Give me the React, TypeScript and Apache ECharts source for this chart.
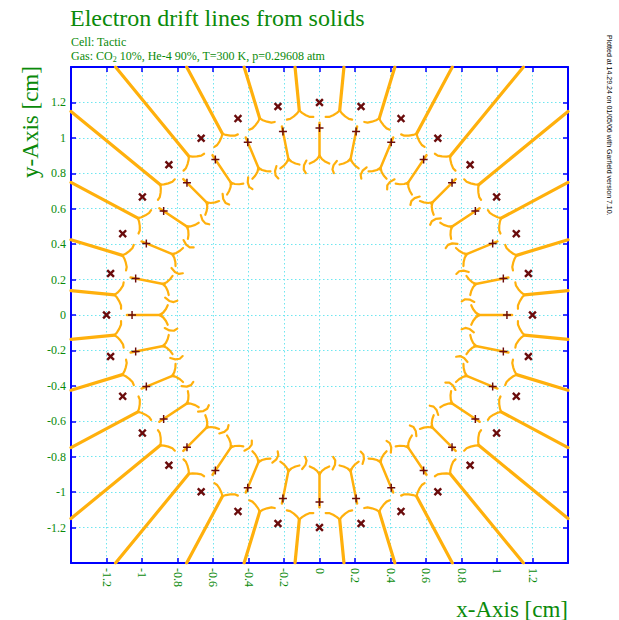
import React, { useEffect, useRef } from 'react';
import * as echarts from 'echarts';

// ---- data ----
// wire angles (degrees, counter-clockwise from +x), 32 wires per ring
const WIRE_ANGLES_DEG = [
  0, 11.25, 22.5, 33.75, 45, 56.25, 67.5, 78.75,
  90, 101.25, 112.5, 123.75, 135, 146.25, 157.5, 168.75,
  180, 191.25, 202.5, 213.75, 225, 236.25, 247.5, 258.75,
  270, 281.25, 292.5, 303.75, 315, 326.25, 337.5, 348.75,
];
const OUTER_WIRE_RADIUS = 1.2; // "x" markers
const INNER_WIRE_RADIUS = 1.056; // "+" markers
const HALF_SECTOR_DEG = 5.625; // long drift lines lie midway between wires
const PLOT_HALF_SIZE = 1.4;

// drift line shapes, local coordinates [radial distance, tangential offset]
const LONG_STEM_END = 1.16;
const LONG_FORK_BRANCH = [[1.16, 0], [1.145, 0.014], [1.13, 0.034], [1.118, 0.056], [1.116, 0.075]];
const INNER_STEM = [[1.085, 0], [0.89, 0]];
const INNER_FORK_BRANCH = [[0.9, 0], [0.88, 0.014], [0.865, 0.034], [0.855, 0.055]];
const HOOK_ARC = [[0.875, -0.012], [0.85, 0.004], [0.825, 0.008], [0.805, -0.002]];

const X_AXIS_TITLE = 'x-Axis [cm]';
const Y_AXIS_TITLE = 'y-Axis [cm]';
const TITLE = 'Electron drift lines from solids';
const CELL_LINE = 'Cell: Tactic';
const PLOTTED_LINE = 'Plotted at 14.29.24 on 01/05/06 with Garfield version 7.10.';

const GREEN = '#0a8a0a';
const BLUE = '#0000ff';
const ORANGE = '#ffb00c';
const WIRE_RED = '#6a0c0c';
const GRID_CYAN = '#6fe6f0';
const SERIF = '"Liberation Serif", "DejaVu Serif", serif';

const toXY = (angDeg: number, u: number, v: number): number[] => {
  const a = (angDeg * Math.PI) / 180;
  return [u * Math.cos(a) - v * Math.sin(a), u * Math.sin(a) + v * Math.cos(a)];
};
const shape = (angDeg: number, pts: number[][], sign = 1) =>
  pts.map(([u, v]) => toXY(angDeg, u, sign * v));

const buildLines = () => {
  const thick: number[][][] = [];
  const mid: number[][][] = [];
  const thin: number[][][] = [];
  WIRE_ANGLES_DEG.forEach((w) => {
    const m = w + HALF_SECTOR_DEG;
    const a = (m * Math.PI) / 180;
    const rBorder = PLOT_HALF_SIZE / Math.max(Math.abs(Math.cos(a)), Math.abs(Math.sin(a)));
    thick.push([toXY(m, rBorder, 0), toXY(m, LONG_STEM_END, 0)]);
    thin.push(shape(m, LONG_FORK_BRANCH, 1));
    thin.push(shape(m, LONG_FORK_BRANCH, -1));
    mid.push(shape(w, INNER_STEM));
    thin.push(shape(w, INNER_FORK_BRANCH, 1));
    thin.push(shape(w, INNER_FORK_BRANCH, -1));
    thin.push(shape(m, HOOK_ARC));
  });
  return { thick, mid, thin };
};

const X_MARK = 'path://M2,0L5,3L8,0L10,2L7,5L10,8L8,10L5,7L2,10L0,8L3,5L0,2Z';
const PLUS_MARK = 'path://M4.1,0H5.9V4.1H10V5.9H5.9V10H4.1V5.9H0V4.1H4.1Z';

export default function App() {
  const ref = useRef<HTMLDivElement>(null);
  useEffect(() => {
    if (!ref.current) return;
    const chart = echarts.init(ref.current, undefined, { renderer: 'svg' });
    const { thick, mid, thin } = buildLines();
    const outer = WIRE_ANGLES_DEG.map((w) => toXY(w, OUTER_WIRE_RADIUS, 0));
    const inner = WIRE_ANGLES_DEG.map((w) => toXY(w, INNER_WIRE_RADIUS, 0));
    const fmt = (v: number) => String(Math.round(v * 10) / 10);
    const axisCommon = {
      type: 'value' as const,
      min: -1.4,
      max: 1.4,
      interval: 0.2,
      axisLine: { show: true, onZero: false, lineStyle: { color: BLUE, width: 2 } },
      axisTick: { show: true, inside: true, length: 5, lineStyle: { color: BLUE, width: 1.5 } },
    };
    const labelStyle = {
      color: GREEN,
      fontFamily: SERIF,
      fontSize: 12,
      showMinLabel: false,
      showMaxLabel: false,
      formatter: fmt,
    };
    const split = {
      show: true,
      lineStyle: { color: GRID_CYAN, type: [1.5, 2.5], width: 1, opacity: 1 },
    };
    const lineSeries = (data: number[][][], width: number) => ({
      type: 'lines',
      coordinateSystem: 'cartesian2d',
      polyline: true,
      silent: true,
      z: 3,
      lineStyle: { color: ORANGE, width, opacity: 1, cap: 'round', join: 'round' },
      data: data.map((c) => ({ coords: c })),
    });
    chart.setOption({
      animation: false,
      backgroundColor: '#ffffff',
      grid: { left: 71, top: 67, width: 497, height: 496, containLabel: false },
      xAxis: [
        { ...axisCommon, position: 'bottom', axisLabel: { ...labelStyle, rotate: -90, margin: 5 }, splitLine: split },
        { ...axisCommon, position: 'top', axisLabel: { show: false }, splitLine: { show: false } },
      ],
      yAxis: [
        { ...axisCommon, position: 'left', axisLabel: { ...labelStyle, margin: 5 }, splitLine: split },
        { ...axisCommon, position: 'right', axisLabel: { show: false }, splitLine: { show: false } },
      ],
      series: [
        lineSeries(thick, 3.2),
        lineSeries(mid, 2.5),
        lineSeries(thin, 2.2),
        {
          type: 'scatter',
          silent: true,
          z: 5,
          symbol: X_MARK,
          symbolSize: 8.5,
          itemStyle: { color: WIRE_RED, opacity: 1 },
          data: outer,
        },
        {
          type: 'scatter',
          silent: true,
          z: 5,
          symbol: PLUS_MARK,
          symbolSize: 8,
          itemStyle: { color: WIRE_RED, opacity: 1 },
          data: inner,
        },
      ],
      graphic: [
        {
          type: 'text',
          left: 70,
          top: 6,
          style: { text: TITLE, fill: GREEN, font: `24px ${SERIF}` },
        },
        {
          type: 'text',
          left: 71,
          top: 36,
          style: { text: CELL_LINE, fill: GREEN, font: `12px ${SERIF}` },
        },
        {
          type: 'text',
          left: 71,
          top: 50,
          style: {
            text: '{t|Gas: CO}{s|2}{t| 10%, He-4 90%, T=300 K, p=0.29608 atm}',
            rich: {
              t: { fill: GREEN, font: `12px ${SERIF}` },
              s: { fill: GREEN, font: `8px ${SERIF}`, padding: [6, 0, 0, 0] },
            },
          },
        },
        {
          type: 'text',
          x: 30,
          y: 122,
          rotation: Math.PI / 2,
          style: {
            text: Y_AXIS_TITLE,
            fill: GREEN,
            font: `23px ${SERIF}`,
            align: 'center',
            verticalAlign: 'middle',
          },
        },
        {
          type: 'text',
          x: 568,
          y: 609,
          style: {
            text: X_AXIS_TITLE,
            fill: GREEN,
            font: `23px ${SERIF}`,
            align: 'right',
            verticalAlign: 'middle',
          },
        },
        {
          type: 'text',
          x: 609,
          y: 35,
          rotation: -Math.PI / 2,
          style: {
            text: PLOTTED_LINE,
            fill: '#000000',
            font: `7px "Liberation Sans", sans-serif`,
            align: 'left',
            verticalAlign: 'middle',
          },
        },
      ],
    });
    return () => chart.dispose();
  }, []);
  return (
    <div
      ref={ref}
      style={{ position: 'absolute', left: 0, top: 0, width: 619, height: 620 }}
    />
  );
}
